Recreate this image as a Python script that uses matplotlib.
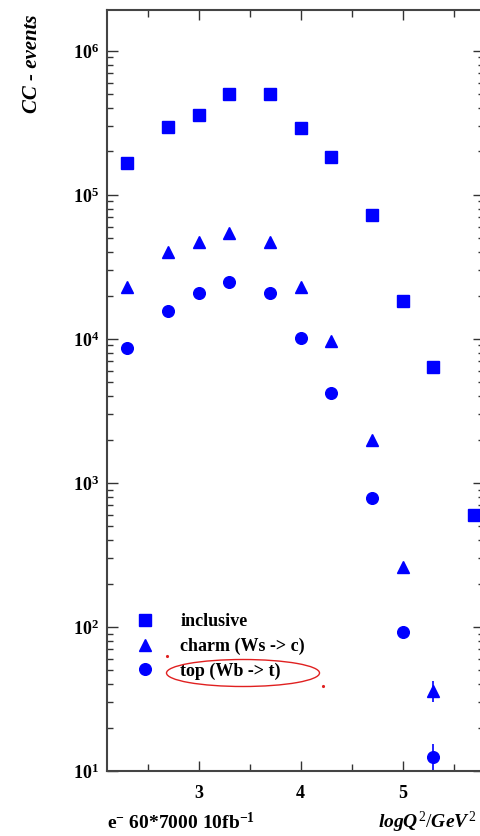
import matplotlib
matplotlib.use("Agg")
import matplotlib.pyplot as plt
import numpy as np
from matplotlib.patches import Ellipse
from matplotlib.lines import Line2D
from matplotlib.ticker import LogLocator, FixedLocator, NullFormatter, FuncFormatter

plt.rcParams['font.family'] = ['Liberation Serif', 'DejaVu Serif']
plt.rcParams['mathtext.fontset'] = 'custom'
plt.rcParams['mathtext.rm'] = 'Liberation Serif'
plt.rcParams['mathtext.bf'] = 'Liberation Serif:bold'
plt.rcParams['mathtext.it'] = 'Liberation Serif:italic:bold'

# log Q^2 bins
logq2_incl = [2.3, 2.7, 3.0, 3.3, 3.7, 4.0, 4.3, 4.7, 5.0, 5.3, 5.7]
logq2 = [2.3, 2.7, 3.0, 3.3, 3.7, 4.0, 4.3, 4.7, 5.0, 5.3]

inclusive = [1.67e5, 2.97e5, 3.6e5, 5.0e5, 5.0e5, 2.9e5, 1.84e5, 7.2e4, 1.82e4, 6.4e3, 6.0e2]
charm = [2.3e4, 4.0e4, 4.7e4, 5.4e4, 4.7e4, 2.3e4, 9.6e3, 2.0e3, 2.6e2, 36]
charm_err = [0, 0, 0, 0, 0, 0, 0, 0, 0, 6]
top = [8.6e3, 1.55e4, 2.07e4, 2.5e4, 2.07e4, 1.02e4, 4.2e3, 7.9e2, 93, 12.6]
top_err = [0, 0, 0, 0, 0, 0, 0, 0, 0, 2.7]

labels = ['inclusive', 'charm (Ws -> c)', 'top (Wb -> t)']
blue = '#0000ff'

W, H = 481, 836
fig = plt.figure(figsize=(W / 100, H / 100), dpi=100)
ax = fig.add_axes([107 / W, 1 - 771 / H, 377.4 / W, 761 / H])

ax.plot(logq2_incl, inclusive, 's', color=blue, markersize=9.0, linestyle='none')
ax.errorbar(logq2, charm, yerr=charm_err, fmt='^', color=blue, markersize=8.4,
            elinewidth=1.2, capsize=0)
ax.errorbar(logq2, top, yerr=top_err, fmt='o', color=blue, markersize=8.4,
            elinewidth=1.2, capsize=0)

ax.set_yscale('log')
ax.set_xlim(2.1, 5.8)
ax.set_ylim(10, 1.92e6)

ax.xaxis.set_major_locator(FixedLocator([3, 4, 5]))
ax.xaxis.set_minor_locator(FixedLocator([2.5, 3.5, 4.5, 5.5]))
ax.xaxis.set_major_formatter(FuncFormatter(lambda v, p: r'$\mathbf{%d}$' % round(v)))
ax.yaxis.set_major_locator(LogLocator(base=10, numticks=10))
ax.yaxis.set_minor_locator(LogLocator(base=10, subs=np.arange(2, 10), numticks=20))
ax.yaxis.set_minor_formatter(NullFormatter())
ax.yaxis.set_major_formatter(FuncFormatter(
    lambda v, p: r'$\mathbf{10^{%d}}$' % round(np.log10(v))))

ax.tick_params(which='both', direction='in', top=True, right=True, colors='#333333',
               labelcolor='black', labelsize=13, width=1.0)
ax.tick_params(axis='x', which='major', length=7, pad=10)
ax.tick_params(axis='x', which='minor', length=5, width=1.0)
ax.tick_params(axis='y', which='major', length=8, pad=6)
ax.tick_params(axis='y', which='minor', length=4)
for s in ax.spines.values():
    s.set_color('#444444')
    s.set_linewidth(1.5)

handles = [Line2D([], [], marker=m, color=blue, linestyle='none', markersize=ms)
           for m, ms in [('s', 9.0), ('^', 8.4), ('o', 8.4)]]
ax.legend(handles, labels, loc='upper left', bbox_to_anchor=(136 / W, 1 - 613 / H),
          bbox_transform=fig.transFigure, frameon=False, numpoints=1,
          handlelength=1.0, handletextpad=1.45, labelspacing=0.42,
          borderpad=0, borderaxespad=0,
          prop={'family': 'Liberation Serif', 'weight': 'bold', 'size': 13})

# red hand-drawn mark around the top label
fig.add_artist(Ellipse((243 / W, 1 - 673 / H), 153 / W, 27 / H, transform=fig.transFigure,
                       fill=False, edgecolor='#e02020', linewidth=1.0))
fig.add_artist(Line2D([167 / W], [1 - 656 / H], marker='.', markersize=2.5, color='#e02020',
                      transform=fig.transFigure))
fig.add_artist(Line2D([323 / W], [1 - 686 / H], marker='.', markersize=2.5, color='#e02020',
                      transform=fig.transFigure))

fig.text(32 / W, 1 - 64 / H, 'CC - events', rotation=90, ha='center', va='center',
         fontsize=15, fontstyle='italic', fontweight='bold')
fig.text(107 / W, 1 - 822 / H, r'$\mathbf{e^{-}}$ 60*7000 10fb$^{\mathbf{-1}}$',
         ha='left', va='center', fontsize=14, fontweight='bold')
fig.text(378 / W, 1 - 822 / H, r'$\mathit{logQ^{2}/GeV^{2}}$', ha='left', va='center',
         fontsize=14)

fig.savefig('out.png', dpi=100)
